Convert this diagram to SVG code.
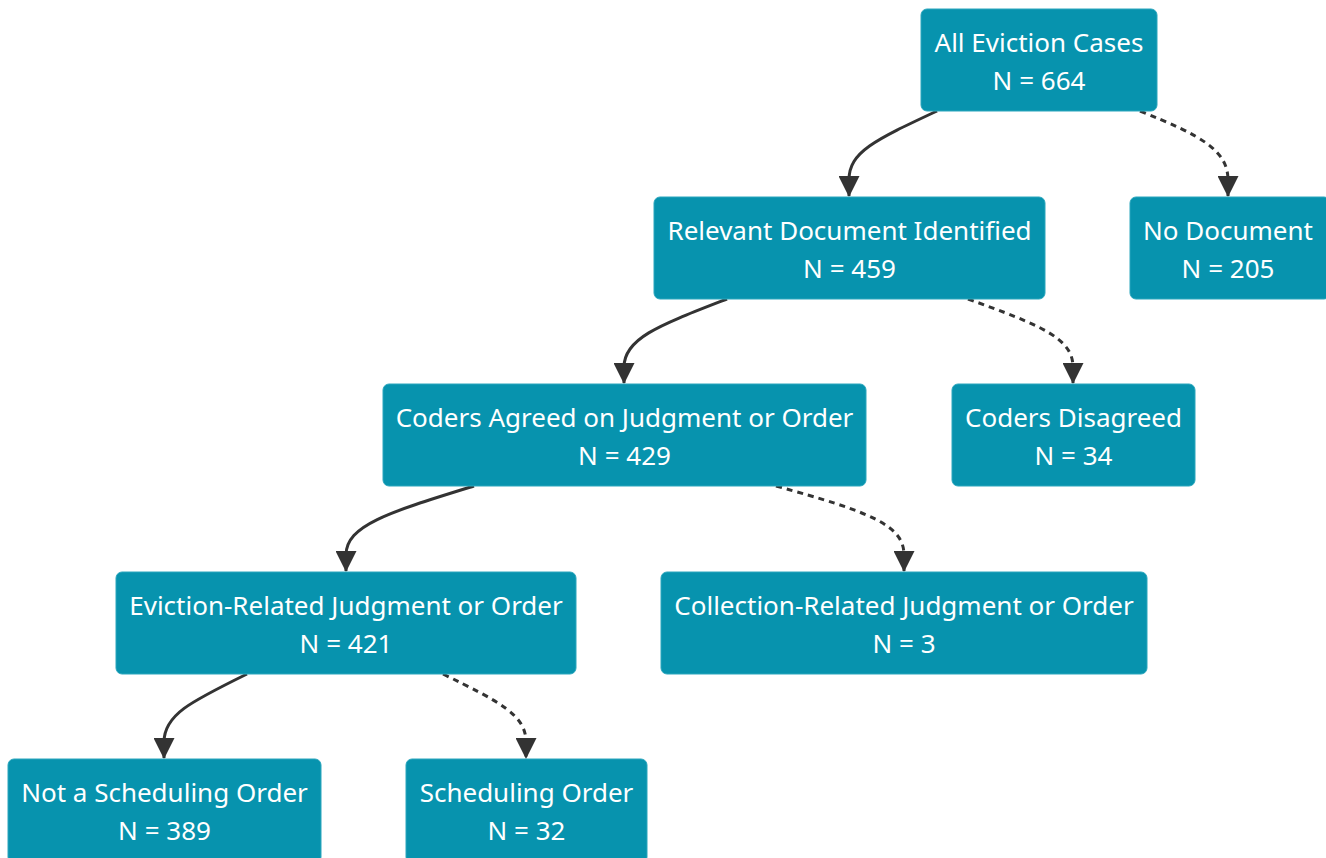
<svg xmlns="http://www.w3.org/2000/svg" width="1326" height="858" viewBox="0 0 1326 858">
<style>
.n rect{fill:#0793ae;stroke:#2aa6bd;stroke-width:1}
.n text{fill:#ffffff;font-family:"Noto Sans","Open Sans",sans-serif;font-size:26px;text-anchor:middle;dominant-baseline:central}
.e path{fill:none;stroke:#333333;stroke-width:3}
.e path.d{stroke-dasharray:6 5}
</style>
<defs>
<marker id="arr" viewBox="0 0 20 20" refX="19" refY="10" markerWidth="21" markerHeight="21" markerUnits="userSpaceOnUse" orient="auto">
<path d="M0,0 L20,10 L0,20 z" fill="#333333"/>
</marker>
</defs>
<g id="edges" class="e">
<path d="M937,111 C875,140 849,152 849,180 L849,196" marker-end="url(#arr)"/>
<path class="d" d="M1140,111 C1200,135 1228,150 1228,180 L1228,196" marker-end="url(#arr)"/>
<path d="M727,299 C660,325 624,338 624,367 L624,383" marker-end="url(#arr)"/>
<path class="d" d="M968,299 C1040,325 1073,338 1073,367 L1073,383" marker-end="url(#arr)"/>
<path d="M474,486 C390,512 346,525 346,555 L346,571" marker-end="url(#arr)"/>
<path class="d" d="M776,486 C870,512 904,525 904,555 L904,571" marker-end="url(#arr)"/>
<path d="M247,674 C190,702 164,715 164,742 L164,758" marker-end="url(#arr)"/>
<path class="d" d="M443,674 C500,702 526,715 526,742 L526,758" marker-end="url(#arr)"/>
</g>
<g id="n1" class="n"><rect x="921" y="9" width="236" height="102" rx="6"/><text x="1039" y="42">All Eviction Cases</text><text x="1039" y="80">N = 664</text></g>
<g id="n2" class="n"><rect x="654" y="197" width="391" height="102" rx="6"/><text x="849.5" y="230">Relevant Document Identified</text><text x="849.5" y="268">N = 459</text></g>
<g id="n3" class="n"><rect x="1130" y="197" width="200" height="102" rx="6"/><text x="1228" y="230">No Document</text><text x="1228" y="268">N = 205</text></g>
<g id="n4" class="n"><rect x="383" y="384" width="483" height="102" rx="6"/><text x="624.5" y="417">Coders Agreed on Judgment or Order</text><text x="624.5" y="455">N = 429</text></g>
<g id="n5" class="n"><rect x="952" y="384" width="243" height="102" rx="6"/><text x="1073.5" y="417">Coders Disagreed</text><text x="1073.5" y="455">N = 34</text></g>
<g id="n6" class="n"><rect x="116" y="572" width="460" height="102" rx="6"/><text x="346" y="605">Eviction-Related Judgment or Order</text><text x="346" y="643">N = 421</text></g>
<g id="n7" class="n"><rect x="661" y="572" width="486" height="102" rx="6"/><text x="904" y="605">Collection-Related Judgment or Order</text><text x="904" y="643">N = 3</text></g>
<g id="n8" class="n"><rect x="8" y="759" width="313" height="104" rx="6"/><text x="164.5" y="792">Not a Scheduling Order</text><text x="164.5" y="830">N = 389</text></g>
<g id="n9" class="n"><rect x="406" y="759" width="241" height="104" rx="6"/><text x="526.5" y="792">Scheduling Order</text><text x="526.5" y="830">N = 32</text></g>
</svg>
